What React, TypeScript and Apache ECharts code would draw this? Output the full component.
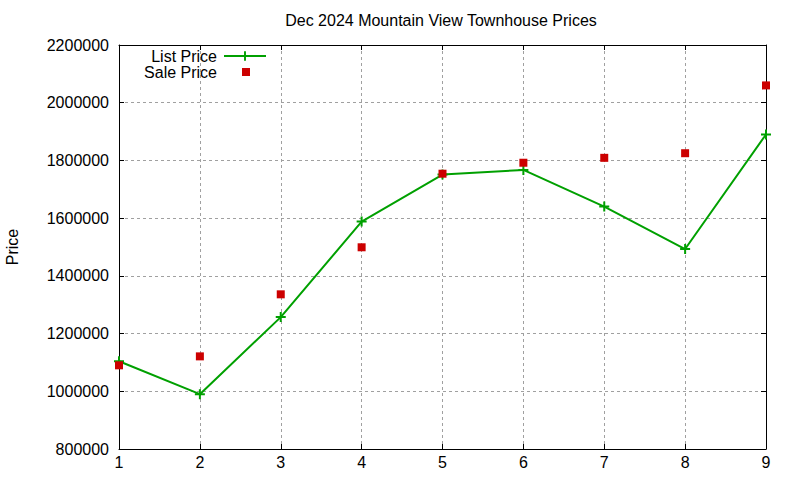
import { useEffect, useRef } from 'react';
import * as echarts from 'echarts';

const xValues = [1, 2, 3, 4, 5, 6, 7, 8, 9];
const listPrice = [1104000, 990000, 1257000, 1588000, 1751000, 1767000, 1640000, 1493000, 1890000];
const salePrice = [1090000, 1121000, 1336000, 1499000, 1754000, 1792000, 1809000, 1825000, 2060000];

const PLUS = 'path://M4,0h2v4h4v2h-4v4h-2v-4h-4v-2h4z';
const GREEN = '#00a000';
const RED = '#cc0000';
const FONT = 'Liberation Sans, Arial, sans-serif';

export default function App() {
  const ref = useRef<HTMLDivElement>(null);

  useEffect(() => {
    if (!ref.current) return;
    const chart = echarts.init(ref.current, undefined, { renderer: 'svg' });

    const gridLine = { show: true, lineStyle: { color: '#a0a0a0', type: [3, 3], width: 1 } };
    const axisLine = { show: true, lineStyle: { color: '#000', width: 1 } };
    const ticks = { show: true, inside: true, length: 5, lineStyle: { color: '#000' } };
    const label = { color: '#000', fontSize: 16, fontFamily: FONT };

    chart.setOption({
      animation: false,
      backgroundColor: '#fff',
      textStyle: { fontFamily: FONT },
      title: {
        text: 'Dec 2024 Mountain View Townhouse Prices',
        left: 441,
        top: 12,
        padding: 0,
        textAlign: 'center',
        textStyle: { fontSize: 16, fontWeight: 'normal', color: '#000', fontFamily: FONT },
      },
      legend: [
        {
          data: ['List Price'],
          orient: 'vertical',
          align: 'right',
          right: 533,
          top: 48,
          padding: 0,
          itemWidth: 42,
          itemHeight: 12,
          textStyle: { fontSize: 16, color: '#000', fontFamily: FONT, padding: [0, 2, 0, 0] },
        },
        {
          data: ['Sale Price'],
          orient: 'vertical',
          align: 'right',
          right: 550,
          top: 64,
          padding: 0,
          itemWidth: 8,
          itemHeight: 8,
          icon: 'rect',
          textStyle: { fontSize: 16, color: '#000', fontFamily: FONT, padding: [0, 20, 0, 0] },
        },
      ],
      grid: { left: 119, right: 34, top: 45, bottom: 31, outerBoundsMode: 'none' },
      xAxis: [
        {
          type: 'value',
          min: 1,
          max: 9,
          interval: 1,
          axisLine,
          axisTick: ticks,
          axisLabel: { ...label, margin: 5 },
          splitLine: gridLine,
        },
        {
          type: 'value',
          position: 'top',
          min: 1,
          max: 9,
          interval: 1,
          axisLine,
          axisTick: ticks,
          axisLabel: { show: false },
          splitLine: { show: false },
        },
      ],
      yAxis: [
        {
          type: 'value',
          min: 800000,
          max: 2200000,
          interval: 200000,
          name: 'Price',
          nameLocation: 'middle',
          nameRotate: 90,
          nameGap: 99,
          nameTextStyle: { ...label },
          axisLine,
          axisTick: ticks,
          axisLabel: { ...label, margin: 10, formatter: (v: number) => String(v) },
          splitLine: gridLine,
        },
        {
          type: 'value',
          position: 'right',
          min: 800000,
          max: 2200000,
          interval: 200000,
          axisLine,
          axisTick: ticks,
          axisLabel: { show: false },
          splitLine: { show: false },
        },
      ],
      series: [
        {
          name: 'List Price',
          type: 'line',
          xAxisIndex: 0,
          yAxisIndex: 0,
          data: xValues.map((x, i) => [x, listPrice[i]]),
          symbol: PLUS,
          symbolSize: 10,
          showAllSymbol: true,
          itemStyle: { color: GREEN },
          lineStyle: { color: GREEN, width: 2 },
          z: 3,
        },
        {
          name: 'Sale Price',
          type: 'scatter',
          xAxisIndex: 0,
          yAxisIndex: 0,
          data: xValues.map((x, i) => [x, salePrice[i]]),
          symbol: 'rect',
          symbolSize: 8,
          itemStyle: { color: RED, opacity: 1 },
          z: 4,
        },
      ],
    });

    return () => chart.dispose();
  }, []);

  return (
    <div
      ref={ref}
      style={{ position: 'absolute', left: 0, top: 0, width: 800, height: 480 }}
    />
  );
}
